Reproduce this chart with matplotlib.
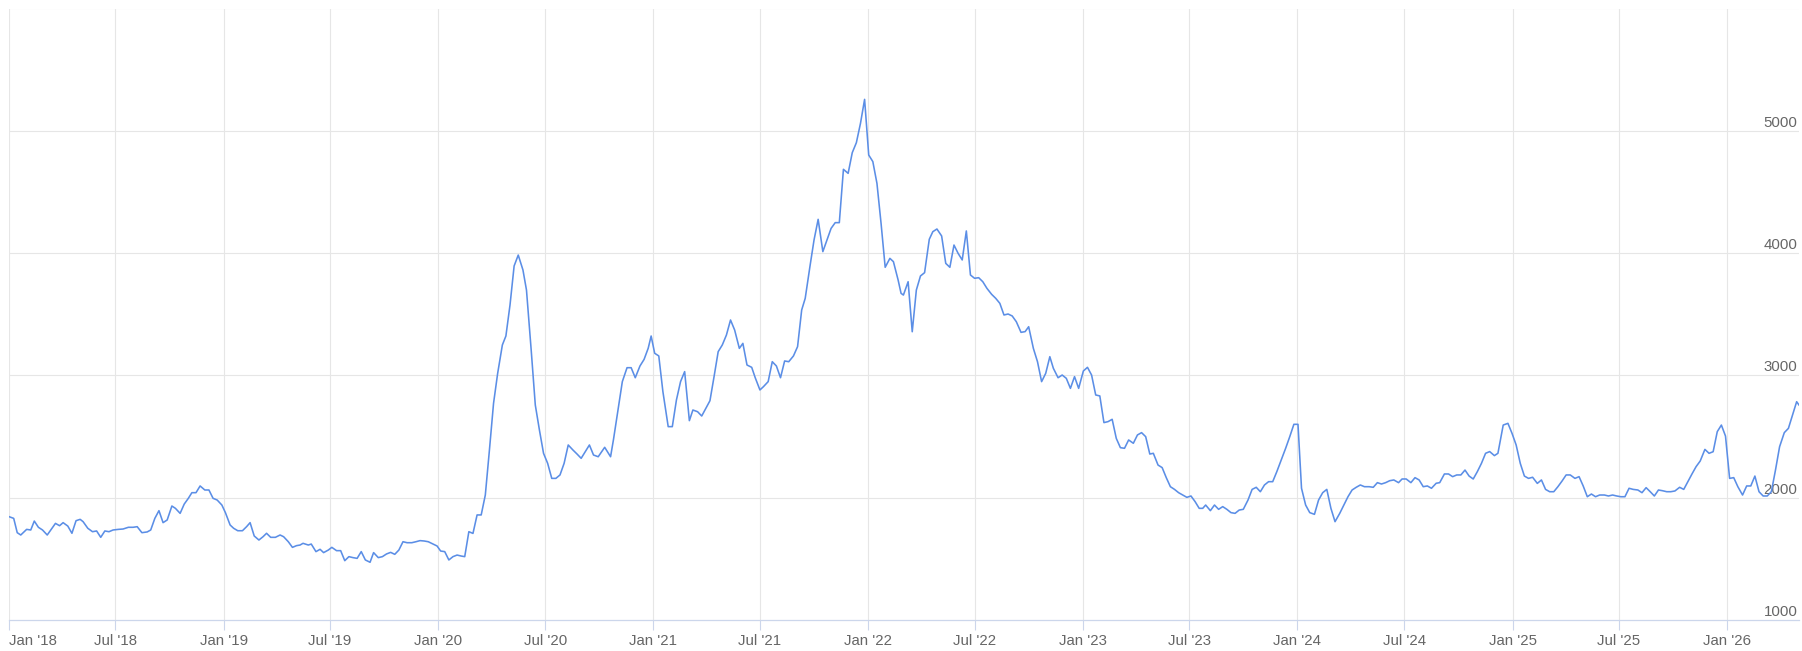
import matplotlib
matplotlib.use("Agg")
import matplotlib.pyplot as plt
import matplotlib.dates as mdates
from matplotlib.transforms import ScaledTranslation
import numpy as np
import pandas as pd

# ---------------- data (days since 2018-01-01, value) ----------------
start_date = "2018-01-01"

days_a = [0,8,14,20,30,37,43,50,57,65,71,79,86,92,100,107,114,121,126,134,142,149,156,163,170,177,186,194,203,211,218,226,235,241,248,255,262,269,277,283,291,298,305,311,318,325,333,340,347,354,362,368,376,382,389,397,404,410,417,425,432,438,445,453,461,467,475,482,489]
vals_a = [1845,1831,1714,1695,1741,1736,1809,1758,1736,1695,1736,1790,1771,1796,1768,1709,1812,1823,1804,1750,1722,1728,1676,1728,1722,1736,1741,1744,1758,1758,1763,1714,1720,1736,1831,1894,1796,1818,1932,1913,1872,1948,1995,2041,2041,2096,2063,2063,1995,1981,1940,1878,1777,1750,1730,1730,1763,1796,1687,1654,1681,1709,1676,1676,1695,1681,1640,1594,1608]

days_b = [495,500,509,514,522,529,535,543,549,557,564,571,578,585,592,599,606,614,620,628,635,642,649,656,663,670,677,685,692,699,706,713,721,728,734,741,748,755,762,769,775,782,789,796,803,810,817,824,831,839,845,852,859,866,874,880,888,895,902,909,916,923,930,937,944,951,959,966,973,980,987,994,1002]
vals_b = [1613,1627,1613,1621,1559,1578,1551,1572,1594,1567,1567,1485,1518,1510,1504,1559,1491,1472,1551,1510,1518,1540,1553,1537,1572,1640,1632,1632,1640,1649,1646,1640,1621,1605,1564,1559,1491,1518,1531,1523,1518,1722,1708,1859,1859,2022,2390,2772,3017,3249,3322,3576,3895,3984,3862,3698,3208,2758,2554,2363,2281,2158,2158,2186,2281,2431,2390,2357,2322,2376,2431,2349,2335]

days_c = [1013,1023,1028,1036,1043,1051,1058,1065,1073,1080,1087,1092,1098,1105,1112,1121,1128,1135,1142,1149,1157,1163,1171,1178,1185,1192,1199,1206,1213,1220,1227,1234,1242,1248,1255,1263,1269,1277,1283,1291,1298,1305,1312,1319,1326,1334,1341,1348,1354,1362,1369,1376,1384,1391,1398,1405,1412,1419,1427,1434,1441,1448,1455,1462,1469,1476,1483,1490,1498,1504,1512]
vals_c = [2412,2335,2477,2731,2949,3063,3063,2981,3077,3131,3222,3322,3181,3159,2867,2581,2581,2799,2949,3031,2630,2717,2703,2668,2731,2793,2990,3194,3249,3330,3453,3371,3221,3262,3085,3066,2981,2881,2908,2949,3112,3077,2981,3118,3112,3159,3235,3535,3630,3889,4107,4276,4012,4107,4202,4249,4249,4685,4652,4821,4903,5061,5257,4802,4748,4570,4243,3884,3957,3930,3780]

days_d = [1517,1521,1529,1536,1543,1550,1557,1565,1571,1578,1586,1593,1600,1607,1614,1621,1628,1635,1642,1649,1656,1663,1671,1678,1685,1692,1699,1706,1713,1721,1728,1734,1742,1749,1756,1763,1770,1776,1784,1791,1798,1805,1812,1819,1827,1834,1841,1848,1855,1862,1869,1876,1883,1890,1897,1904,1912,1919,1926,1933,1940,1946,1954,1961,1968,1975,1982,1989,1996,2003,2010,2017,2024]
vals_d = [3671,3657,3766,3357,3698,3813,3840,4113,4175,4197,4140,3916,3884,4066,3998,3944,4181,3821,3794,3799,3766,3712,3663,3630,3589,3494,3502,3486,3439,3352,3358,3398,3221,3112,2949,3017,3153,3058,2981,3003,2976,2894,2990,2894,3036,3066,3003,2840,2832,2614,2622,2641,2485,2409,2404,2472,2445,2513,2532,2499,2357,2363,2267,2246,2164,2090,2068,2041,2022,2003,2014,1968,1913]

days_e = [2030,2035,2043,2050,2057,2064,2071,2078,2085,2092,2099,2107,2114,2121,2128,2135,2142,2149,2156,2164,2171,2178,2185,2192,2198,2205,2212,2220,2227,2234,2241,2248,2255,2263,2270,2277,2284,2291,2298,2305,2313,2320,2327,2334,2341,2348,2355,2363,2369,2376,2384,2391,2398,2405,2412,2419,2427,2433,2441,2448,2455,2462,2469,2476,2483,2490,2497,2504,2511,2518,2526,2532]
vals_e = [1913,1940,1894,1940,1905,1927,1905,1878,1872,1899,1905,1981,2068,2085,2049,2104,2131,2131,2213,2314,2404,2499,2600,2600,2077,1940,1878,1864,1981,2041,2068,1913,1804,1872,1940,2008,2063,2085,2104,2090,2090,2085,2123,2112,2123,2139,2145,2123,2153,2153,2123,2164,2145,2090,2096,2077,2118,2123,2194,2194,2172,2186,2186,2226,2177,2153,2213,2281,2363,2377,2344,2363]

days_f = [2541,2549,2556,2563,2570,2577,2584,2591,2599,2606,2613,2620,2627,2634,2641,2648,2655,2663,2670,2677,2684,2691,2698,2705,2713,2720,2727,2734,2741,2748,2755,2762,2770,2777,2784,2791,2798,2805,2812,2819,2826,2833,2841,2848,2855,2862,2869,2876,2884,2891,2898,2905,2912,2919,2926,2933,2940,2948,2955,2962,2969,2976,2983,2990,2997,3004,3011,3019,3026,3033,3040,3044]
vals_f = [2594,2608,2526,2431,2281,2177,2158,2167,2117,2145,2068,2049,2049,2090,2136,2186,2186,2158,2172,2096,2008,2030,2008,2022,2022,2014,2022,2014,2008,2008,2077,2068,2063,2041,2082,2049,2014,2063,2057,2049,2049,2055,2085,2068,2131,2194,2254,2300,2395,2363,2376,2540,2594,2504,2158,2164,2090,2022,2096,2096,2177,2049,2014,2014,2049,2226,2417,2532,2567,2676,2785,2758]

tick_dates = ["2018-01-01", "2018-07-01", "2019-01-01", "2019-07-01", "2020-01-01",
              "2020-07-01", "2021-01-01", "2021-07-01", "2022-01-01", "2022-07-01",
              "2023-01-01", "2023-07-01", "2024-01-01", "2024-07-01", "2025-01-01",
              "2025-07-01", "2026-01-01"]
tick_labels = ["Jan '18", "Jul '18", "Jan '19", "Jul '19", "Jan '20", "Jul '20",
               "Jan '21", "Jul '21", "Jan '22", "Jul '22", "Jan '23", "Jul '23",
               "Jan '24", "Jul '24", "Jan '25", "Jul '25", "Jan '26"]
y_grid_values = [1000, 2000, 3000, 4000, 5000, 6000]
y_label_values = [1000, 2000, 3000, 4000, 5000]

# ---------------- assemble ----------------
segments = [(days_a, vals_a), (days_b, vals_b), (days_c, vals_c),
            (days_d, vals_d), (days_e, vals_e), (days_f, vals_f)]
all_days, all_vals = [], []
for d, v in segments:
    assert len(d) == len(v), (len(d), len(v))
    all_days += d
    all_vals += v
dates = pd.Timestamp(start_date) + pd.to_timedelta(np.array(all_days), unit="D")
values = np.array(all_vals, dtype=float)

# ---------------- figure ----------------
W, H = 1802, 651
fig = plt.figure(figsize=(W / 100, H / 100), dpi=100)
fig.patch.set_facecolor("white")
ax = fig.add_axes([9 / W, 31 / H, 1790 / W, (620 - 8.5) / H])
ax.set_facecolor("white")

grid_color = "#e6e6e6"
axis_color = "#ccd6eb"
text_color = "#666666"
font = "Liberation Sans"

ax.plot(dates, values, color="#5b8ee6", lw=1.15, solid_joinstyle="round", zorder=3)

ax.set_xlim(dates[0], dates[-1])
ax.set_ylim(y_grid_values[0], y_grid_values[-1])

# horizontal grid
for v in y_grid_values[1:]:
    ax.axhline(v, color=grid_color, lw=0.8, zorder=1)

# vertical grid + ticks
tick_pos = mdates.date2num(pd.to_datetime(tick_dates))
for t in tick_pos:
    ax.axvline(t, color=grid_color, lw=0.8, zorder=1)
ax.set_xticks(tick_pos)
ax.set_xticklabels(tick_labels, fontfamily=font, fontsize=10.8, color=text_color)
ax.tick_params(axis="x", length=7.5, width=0.8, color=axis_color, pad=2.5)
ax.set_yticks([])

for s in ["top", "left", "right"]:
    ax.spines[s].set_visible(False)
ax.spines["bottom"].set_color(axis_color)
ax.spines["bottom"].set_linewidth(0.9)

labs = ax.get_xticklabels()
labs[0].set_horizontalalignment("left")

# y labels inside right edge, above gridlines
offset = ScaledTranslation(-1.0 / 72, 3.0 / 72, fig.dpi_scale_trans)
for v in y_label_values:
    ax.text(1.0, v, f"{v}", transform=ax.get_yaxis_transform() + offset,
            ha="right", va="baseline", fontfamily=font, fontsize=10.8,
            color=text_color, zorder=2)

fig.savefig("out.png", dpi=100, facecolor="white")
